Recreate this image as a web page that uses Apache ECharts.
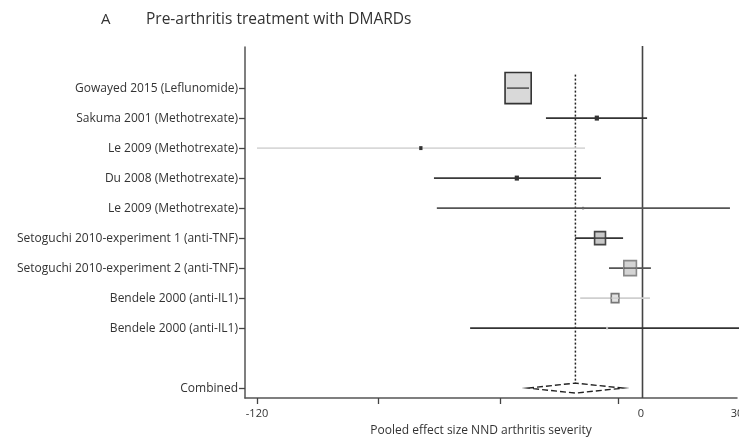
<!DOCTYPE html>
<html><head><meta charset="utf-8">
<script src="https://cdn.jsdelivr.net/npm/echarts@6/dist/echarts.min.js"></script>
<style>html,body{margin:0;padding:0;background:#fff}#c{width:739px;height:438px}</style>
</head><body><div id="c"></div>
<script>
// ---- data ----
const studies = [
  'Gowayed 2015 (Leflunomide)',
  'Sakuma 2001 (Methotrexate)',
  'Le 2009 (Methotrexate)',
  'Du 2008 (Methotrexate)',
  'Le 2009 (Methotrexate)',
  'Setoguchi 2010-experiment 1 (anti-TNF)',
  'Setoguchi 2010-experiment 2 (anti-TNF)',
  'Bendele 2000 (anti-IL1)',
  'Bendele 2000 (anti-IL1)'
];
const estimates = [-38.4, -13.8, -68.8, -38.8, -18.1, -12.8, -3.4, -8.1, -10.6];
const lowerCI   = [-41.9, -29.7, -120.0, -64.7, -63.8, -20.6, -10.0, -19.0, -53.4];
const upperCI   = [-35.0, 1.9, -17.5, -12.5, 27.8, -5.6, 3.1, 2.8, 40.0];
const weights   = [50, 1.3, 0.8, 1.3, 0.2, 8.7, 11.6, 4.2, 0.2];
const combinedLabel = 'Combined';
const combinedEstimate = -20.5;
const combinedLower = -35.3;
const combinedUpper = -5.6;
const xTickLabels = [-120, 0, 30];
const xTickMarks = [-120, -82, -44, -7];
const xAxisTitle = 'Pooled effect size NND arthritis severity';
const panelLetter = 'A';
const panelTitle = 'Pre-arthritis treatment with DMARDs';

// ---- styles (kept apart from data) ----
const lineColors = ['#444', '#333', '#d8d8d8', '#3a3a3a', '#555', '#333', '#555', '#cfcfcf', '#333'];
const boxFills   = ['#d9d9d9', '#333', '#333', '#333', '#666', '#c8c8c8', '#d4d4d4', '#e2e2e2', '#bbb'];
const boxStrokes = ['#333', '#333', '#333', '#333', '#666', '#444', '#888', '#777', '#bbb'];

const FONT = 'Open Sans';
const studyRows = studies.map((s, i) => i + 1);
const combinedRow = studies.length + 2;
const rowNames = {};
studies.forEach((s, i) => rowNames[studyRows[i]] = s);
rowNames[combinedRow] = combinedLabel;
const yLabelValues = studyRows.concat([combinedRow]);

const studyData = studies.map((s, i) => [estimates[i], lowerCI[i], upperCI[i], studyRows[i], weights[i]]);

function renderStudy(params, api) {
  const i = params.dataIndex;
  const row = api.value(3);
  const pE = api.coord([api.value(0), row]);
  const pL = api.coord([api.value(1), row]);
  const pH = api.coord([api.value(2), row]);
  const s = Math.max(2.5, 4.4 * Math.sqrt(api.value(4)));
  const big = s > 7;
  return {
    type: 'group',
    children: [
      { type: 'line', shape: { x1: pL[0], y1: pL[1], x2: pH[0], y2: pH[1] },
        style: { stroke: lineColors[i], lineWidth: 1.8 } },
      { type: 'rect', shape: { x: pE[0] - s * 0.42, y: pE[1] - s / 2, width: s * 0.84, height: s },
        style: { fill: boxFills[i], stroke: big ? boxStrokes[i] : null, lineWidth: big ? 1.6 : 0 } },
      { type: 'line', shape: { x1: Math.max(pL[0], pE[0] - s * 0.42), y1: pE[1], x2: Math.min(pH[0], pE[0] + s * 0.42), y2: pE[1] },
        style: { stroke: lineColors[i], lineWidth: big ? 1.4 : 0 } }
    ]
  };
}

function renderCombined(params, api) {
  const row = api.value(3);
  const pE = api.coord([api.value(0), row]);
  const pL = api.coord([api.value(1), row]);
  const pH = api.coord([api.value(2), row]);
  const h = 5;
  const cs = params.coordSys;
  const p0 = api.coord([0, row]);
  const pTop = api.coord([api.value(0), studyRows[0] - 0.45]);
  return {
    type: 'group',
    children: [
      { type: 'line', shape: { x1: p0[0] + 1.5, y1: cs.y - 1, x2: p0[0] + 1.5, y2: cs.y + cs.height },
        style: { stroke: '#444', lineWidth: 1.6 } },
      { type: 'line', shape: { x1: pE[0], y1: pTop[1], x2: pE[0], y2: pE[1] - h },
        style: { stroke: '#222', lineWidth: 1.5, lineDash: [2, 2] } },
      { type: 'polygon', shape: { points: [[pL[0], pE[1]], [pE[0], pE[1] - h], [pH[0], pE[1]], [pE[0], pE[1] + h]] },
        style: { fill: '#fff', stroke: '#222', lineWidth: 1.4, lineDash: [6, 3] } }
    ]
  };
}

const chart = echarts.init(document.getElementById('c'), null, { renderer: 'canvas' });
chart.setOption({
  animation: false,
  backgroundColor: '#fff',
  textStyle: { fontFamily: FONT },
  title: [
    { text: panelLetter, left: 96, top: 7, textStyle: { fontFamily: FONT, fontSize: 15, fontWeight: 'normal', color: '#333' } },
    { text: panelTitle, left: 141, top: 7, textStyle: { fontFamily: FONT, fontSize: 15.5, fontWeight: 'normal', color: '#333' } }
  ],
  grid: { left: 245, right: 2, top: 47, bottom: 40, containLabel: false, outerBoundsMode: 'none' },
  xAxis: {
    type: 'value', min: -123.75, max: 30,
    splitLine: { show: false },
    axisLine: { show: true, onZero: false, lineStyle: { color: '#555', width: 1.5 } },
    axisTick: { show: true, customValues: xTickMarks, length: 6, lineStyle: { color: '#444', width: 1.3 } },
    axisLabel: { customValues: xTickLabels, formatter: v => String(v), fontSize: 11, color: '#333', margin: 10, fontFamily: FONT, hideOverlap: false },
    name: xAxisTitle, nameLocation: 'middle', nameGap: 27,
    nameTextStyle: { fontSize: 12, color: '#333', padding: [0, 20, 0, 0], fontFamily: FONT }
  },
  yAxis: {
    type: 'value', inverse: true, min: -0.37, max: 11.33,
    splitLine: { show: false },
    axisLine: { show: true, onZero: false, lineStyle: { color: '#555', width: 1.5 } },
    axisTick: { show: true, customValues: yLabelValues, length: 6, lineStyle: { color: '#444', width: 1.3 } },
    axisLabel: { customValues: yLabelValues, formatter: v => rowNames[v] || '', fontSize: 12, color: '#333', margin: 7, fontFamily: FONT }
  },
  series: [
    { type: 'custom', name: 'combined', clip: false, renderItem: renderCombined,
      data: [[combinedEstimate, combinedLower, combinedUpper, combinedRow]] },
    { type: 'custom', name: 'studies', clip: false, renderItem: renderStudy, data: studyData }
  ]
});
</script></body></html>
